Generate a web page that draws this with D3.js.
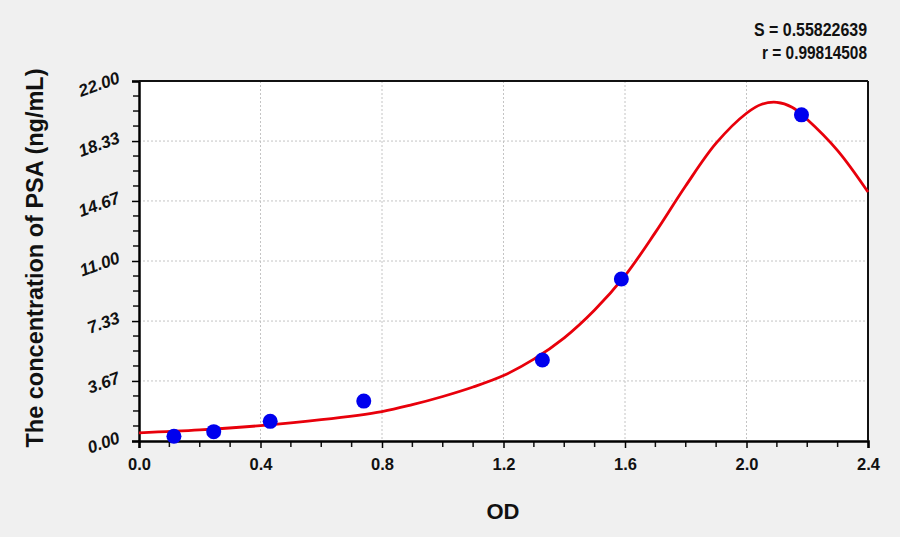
<!DOCTYPE html>
<html>
<head>
<meta charset="utf-8">
<script src="https://cdn.jsdelivr.net/npm/d3@7"></script>
<style>
  body { margin: 0; background: #f0f0f0; }
  svg { display: block; font-family: Arial, "Liberation Sans", sans-serif; }
</style>
</head>
<body>
<div id="chart"></div>
<script>
// measured standards
var odValues   = [0.115, 0.246, 0.432, 0.740, 1.328, 1.588, 2.181];
var concValues = [0.29, 0.57, 1.20, 2.44, 4.95, 9.90, 19.93];

// fitted curve
var curveOD   = [0, 0.2, 0.4, 0.6, 0.8, 0.9, 1.0, 1.1, 1.2, 1.3, 1.4, 1.5, 1.6, 1.7, 1.8, 1.9, 2.0, 2.05, 2.1, 2.15, 2.2, 2.3, 2.4];
var curveConc = [0.50, 0.68, 0.94, 1.30, 1.80, 2.22, 2.72, 3.30, 4.00, 5.00, 6.30, 8.00, 10.10, 12.75, 15.60, 18.20, 20.03, 20.58, 20.70, 20.40, 19.65, 17.75, 15.22];

var xTicks = [0, 0.4, 0.8, 1.2, 1.6, 2.0, 2.4];
var yTicks = [0, 3.67, 7.33, 11.00, 14.67, 18.33, 22.00];
var statLines = ["S = 0.55822639", "r = 0.99814508"];

var margin = {top: 81, right: 32, bottom: 96, left: 139},
    W = 900, H = 537,
    width = W - margin.left - margin.right,
    height = H - margin.top - margin.bottom;

var svg = d3.select("#chart").append("svg")
    .attr("width", W)
    .attr("height", H);

svg.append("rect").attr("width", W).attr("height", H).attr("fill", "#f0f0f0");

var g = svg.append("g")
    .attr("transform", "translate(" + margin.left + "," + margin.top + ")");

var x = d3.scaleLinear().domain([0, 2.4]).range([0, width]);
var y = d3.scaleLinear().domain([0, 22]).range([height, 0]);

g.append("rect").attr("width", width).attr("height", height).attr("fill", "#fff");

// grid
g.selectAll(".gx").data(xTicks.slice(1, -1)).enter().append("line")
    .attr("x1", d => x(d)).attr("x2", d => x(d))
    .attr("y1", 0).attr("y2", height)
    .attr("stroke", "#c4c4c4").attr("stroke-width", 1).attr("stroke-dasharray", "2,2");
g.selectAll(".gy").data(yTicks.slice(1, -1)).enter().append("line")
    .attr("y1", d => y(d)).attr("y2", d => y(d))
    .attr("x1", 0).attr("x2", width)
    .attr("stroke", "#c4c4c4").attr("stroke-width", 1).attr("stroke-dasharray", "2,2");

// minor ticks (3 between majors)
var xMinor = [], yMinor = [];
for (var i = 0; i < xTicks.length - 1; i++)
  for (var k = 1; k < 4; k++) xMinor.push(xTicks[i] + (xTicks[i + 1] - xTicks[i]) * k / 4);
for (var i = 0; i < yTicks.length - 1; i++)
  for (var k = 1; k < 4; k++) yMinor.push(yTicks[i] + (yTicks[i + 1] - yTicks[i]) * k / 4);

g.selectAll(".mx").data(xMinor).enter().append("line")
    .attr("x1", d => x(d)).attr("x2", d => x(d))
    .attr("y1", height).attr("y2", height + 6)
    .attr("stroke", "#111").attr("stroke-width", 1.5);
g.selectAll(".my").data(yMinor).enter().append("line")
    .attr("y1", d => y(d)).attr("y2", d => y(d))
    .attr("x1", 0).attr("x2", -6)
    .attr("stroke", "#111").attr("stroke-width", 1.5);

// x axis
var xAxis = g.append("g")
    .attr("transform", "translate(0," + height + ")")
    .call(d3.axisBottom(x).tickValues(xTicks).tickFormat(d3.format(".1f")).tickSize(7).tickPadding(10));
xAxis.select(".domain").attr("stroke-width", 2.5);
xAxis.selectAll(".tick line").attr("stroke-width", 1.5);
xAxis.selectAll("text").attr("font-size", 16.5).attr("font-weight", "bold").attr("fill", "#111");

// y axis
var yAxis = g.append("g")
    .call(d3.axisLeft(y).tickValues(yTicks).tickFormat(d3.format(".2f")).tickSize(7));
yAxis.select(".domain").attr("stroke-width", 2.5);
yAxis.selectAll(".tick line").attr("stroke-width", 1.5);
yAxis.selectAll("text")
    .attr("x", null).attr("dy", null)
    .attr("text-anchor", "end")
    .attr("transform", "translate(-18,1) rotate(-20)")
    .attr("font-size", 17).attr("font-weight", "bold").attr("font-style", "italic").attr("fill", "#111");

// frame top/right
g.append("line").attr("x1", 0).attr("x2", width).attr("y1", 0).attr("y2", 0)
    .attr("stroke", "#111").attr("stroke-width", 2);
g.append("line").attr("x1", width).attr("x2", width).attr("y1", 0).attr("y2", height)
    .attr("stroke", "#111").attr("stroke-width", 2);

// fitted curve
var line = d3.line()
    .x((d, i) => x(curveOD[i]))
    .y(d => y(d))
    .curve(d3.curveCatmullRom);

g.append("path")
    .datum(curveConc)
    .attr("d", line)
    .attr("fill", "none")
    .attr("stroke", "#e8000b")
    .attr("stroke-width", 2.8);

// points
g.selectAll(".pt").data(odValues).enter().append("circle")
    .attr("cx", d => x(d))
    .attr("cy", (d, i) => y(concValues[i]))
    .attr("r", 7.5)
    .attr("fill", "#0000ee");

// labels
svg.append("text")
    .attr("transform", "translate(43,258) rotate(-90)")
    .attr("text-anchor", "middle")
    .attr("font-size", 23.5).attr("font-weight", "bold").attr("fill", "#111")
    .text("The concentration of PSA (ng/mL)");

svg.append("text")
    .attr("x", 503).attr("y", 519)
    .attr("text-anchor", "middle")
    .attr("font-size", 22).attr("font-weight", "bold").attr("fill", "#111")
    .text("OD");

svg.selectAll(".stat").data(statLines).enter().append("text")
    .attr("x", 867).attr("y", (d, i) => 36 + i * 22.5)
    .attr("text-anchor", "end")
    .attr("font-size", 18).attr("font-weight", "bold").attr("fill", "#111")
    .attr("textLength", (d, i) => i ? 105 : 113)
    .attr("lengthAdjust", "spacingAndGlyphs")
    .text(d => d);
</script>
</body>
</html>
